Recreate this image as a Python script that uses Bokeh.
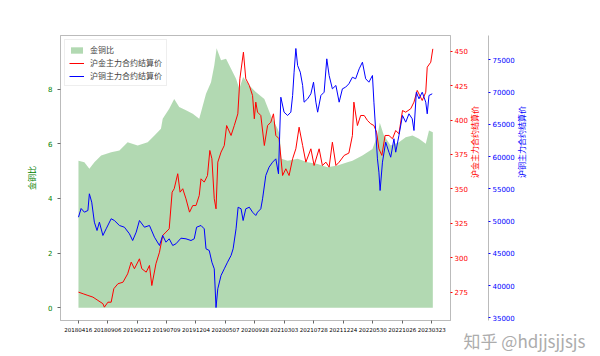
import math
from bokeh.plotting import figure
from bokeh.models import Range1d, LinearAxis, FixedTicker, Legend, LegendItem, Title, ColumnDataSource
from bokeh.embed import file_html
from bokeh.resources import INLINE

# ---------------- data ----------------
tick_idx = [0, 100, 200, 300, 400, 500, 600, 700, 800, 900, 1000, 1100, 1200]
tick_dates = ["20180416", "20180906", "20190212", "20190709", "20191204", "20200507",
              "20200928", "20210303", "20210728", "20211224", "20220530", "20221026", "20230323"]

ratio_idx = [1, 21, 38, 55, 78, 112, 140, 168, 202, 236, 259, 281, 287, 309, 326, 343, 366, 389,
             411, 434, 451, 462, 470, 485, 502, 519, 536, 547, 560, 581, 603, 632, 654, 677, 684,
             690, 711, 745, 779, 813, 846, 880, 914, 931, 965, 999, 1016, 1024, 1038, 1061, 1089,
             1112, 1135, 1157, 1180, 1191, 1204]
ratio_val = [5.38, 5.32, 5.08, 5.32, 5.57, 5.69, 5.75, 6.05, 5.93, 6.05, 6.30, 6.55, 6.91, 7.28,
             7.64, 7.34, 7.22, 7.10, 6.91, 7.83, 8.25, 8.86, 9.49, 9.05, 9.11, 8.74, 8.38, 8.01,
             8.44, 8.13, 7.89, 7.64, 7.03, 6.55, 6.35, 5.45, 5.38, 5.45, 5.32, 5.26, 5.14, 5.20,
             5.32, 5.38, 5.57, 5.81, 6.30, 6.77, 6.30, 5.93, 6.05, 6.24, 6.30, 6.18, 6.00, 6.48, 6.42]

gold_idx = [1, 17, 33, 50, 67, 84, 89, 101, 112, 121, 135, 152, 168, 180, 191, 208, 216, 231, 242,
            250, 264, 276, 287, 298, 309, 319, 326, 338, 346, 355, 366, 378, 389, 400, 411, 417,
            428, 439, 447, 454, 462, 468, 474, 485, 496, 504, 519, 530, 542, 549, 561, 569, 581,
            592, 598, 603, 609, 620, 632, 643, 654, 663, 671, 682, 694, 705, 716, 728, 739, 750,
            762, 773, 790, 801, 818, 829, 841, 852, 863, 875, 886, 903, 919, 931, 936, 948, 959,
            971, 982, 993, 1004, 1013, 1021, 1031, 1042, 1055, 1067, 1078, 1089, 1101, 1112, 1129,
            1140, 1151, 1168, 1180, 1185, 1197, 1204]
gold_val = [275.0, 273.8, 272.6, 271.4, 269.0, 266.6, 264.1, 267.7, 267.7, 277.5, 281.1, 282.2,
            288.3, 296.8, 292.0, 299.2, 292.0, 289.5, 294.4, 279.8, 295.6, 304.0, 316.2, 318.6,
            321.0, 347.6, 350.1, 361.0, 347.6, 350.1, 342.8, 333.1, 337.9, 337.9, 345.2, 357.3,
            354.9, 359.7, 377.9, 371.9, 342.8, 335.5, 369.4, 376.7, 381.5, 396.0, 388.8, 396.0,
            404.5, 430.0, 449.3, 430.0, 425.1, 417.8, 400.9, 413.0, 405.7, 403.3, 381.5, 396.0,
            398.4, 404.5, 388.8, 386.4, 359.7, 364.6, 359.7, 371.9, 379.1, 394.8, 381.5, 369.4,
            379.1, 367.0, 379.1, 367.0, 369.4, 365.8, 383.9, 367.0, 369.4, 374.3, 376.0, 388.8,
            413.0, 396.0, 403.3, 403.3, 399.7, 397.3, 396.0, 391.2, 379.1, 374.3, 388.8, 388.8,
            386.4, 392.4, 390.0, 406.9, 405.7, 408.2, 413.0, 421.5, 414.2, 420.2, 438.4, 442.0, 451.7]

copper_idx = [1, 10, 21, 33, 38, 46, 55, 64, 72, 84, 95, 112, 123, 140, 157, 174, 185, 197, 208,
              225, 242, 259, 276, 287, 298, 309, 321, 332, 349, 366, 383, 394, 402, 417, 428, 434,
              445, 454, 462, 468, 474, 485, 496, 507, 519, 526, 536, 543, 553, 560, 569, 581, 592,
              603, 609, 620, 626, 637, 648, 660, 671, 680, 688, 699, 711, 722, 728, 733, 739, 745,
              754, 762, 767, 779, 790, 799, 807, 813, 824, 835, 844, 852, 863, 875, 886, 897, 908,
              919, 931, 942, 954, 965, 976, 987, 999, 1004, 1016, 1021, 1025, 1033, 1044, 1055,
              1061, 1072, 1078, 1089, 1101, 1112, 1123, 1134, 1140, 1148, 1157, 1168, 1180, 1185,
              1191, 1202]
copper_val = [50600, 51950, 51380, 51640, 54230, 52930, 49830, 48540, 49830, 47770, 48800, 50360,
              50090, 49320, 49050, 48030, 46990, 48280, 50090, 49050, 49320, 47500, 46220, 47770,
              46730, 47250, 46220, 46480, 47350, 47250, 46990, 47250, 49050, 49320, 48800, 45700,
              45440, 43630, 42600, 36600, 39500, 41570, 42600, 43630, 44670, 45700, 48800, 52150,
              51900, 50090, 51900, 52150, 51380, 50870, 51380, 51900, 53450, 57070, 58350, 59130,
              59650, 57330, 69200, 66880, 66370, 66880, 69470, 73080, 76750, 74120, 73080, 71020,
              68430, 68950, 69730, 71530, 68430, 66880, 69470, 69980, 75150, 72570, 70500, 71020,
              68430, 70500, 70760, 71280, 72300, 72060, 73600, 74630, 72060, 71530, 72570, 68430,
              59650, 57580, 54740, 59130, 62230, 60680, 59900, 62760, 60680, 63270, 66370, 65330,
              66630, 65860, 64040, 69980, 68950, 69980, 68430, 66630, 69470, 69730]

ratio_ticks = [0, 2, 4, 6, 8]
gold_ticks = [275, 300, 325, 350, 375, 400, 425, 450]
copper_ticks = [35000, 40000, 45000, 50000, 55000, 60000, 65000, 70000, 75000]

CJK = "Noto Sans CJK SC"
NUM = "DejaVu Sans"

# ---------------- figure ----------------
p = figure(width=600, height=356, output_backend="svg", toolbar_location=None,
           x_range=Range1d(-60, 1264), y_range=Range1d(-0.47, 9.96),
           min_border_left=60, min_border_right=150, min_border_top=35, min_border_bottom=36)
p.extra_y_ranges = {"gold": Range1d(254.4, 461.4), "copper": Range1d(34590, 78767)}
p.xgrid.visible = False
p.ygrid.visible = False
p.outline_line_color = "#bbbbbb"
p.background_fill_color = "white"
p.border_fill_color = "white"

src_r = ColumnDataSource(dict(x=ratio_idx, y=ratio_val, z=[0] * len(ratio_idx)))
src_g = ColumnDataSource(dict(x=gold_idx, y=gold_val))
src_c = ColumnDataSource(dict(x=copper_idx, y=copper_val))

r_area = p.varea(x="x", y1="z", y2="y", source=src_r, fill_color="green", fill_alpha=0.3)
r_gold = p.line(x="x", y="y", source=src_g, line_color="red", line_width=1, y_range_name="gold")
r_cop = p.line(x="x", y="y", source=src_c, line_color="blue", line_width=1, y_range_name="copper")

# x axis
xa = p.xaxis[0]
xa.ticker = FixedTicker(ticks=tick_idx)
xa.major_label_overrides = {t: d for t, d in zip(tick_idx, tick_dates)}
xa.major_label_text_font = NUM
xa.major_label_text_font_size = "5.5px"
xa.major_label_text_color = "black"
xa.axis_line_color = "#bbbbbb"
xa.major_tick_line_color = "#666666"
xa.major_tick_out = 3
xa.major_tick_in = 0
xa.minor_tick_line_color = None
xa.major_label_standoff = 3

# left axis
ya = p.yaxis[0]
ya.ticker = FixedTicker(ticks=ratio_ticks)
ya.axis_label = "金铜比"
ya.axis_label_text_font = CJK
ya.axis_label_text_font_style = "normal"
ya.axis_label_text_font_size = "8px"
ya.axis_label_text_color = "green"
ya.axis_label_standoff = 8
ya.major_label_text_font = NUM
ya.major_label_text_font_size = "7px"
ya.major_label_text_color = "green"
ya.axis_line_color = "#bbbbbb"
ya.major_tick_line_color = "#666666"
ya.major_tick_out = 3
ya.major_tick_in = 0
ya.minor_tick_line_color = None

def right_axis(name, ticks, label, color):
    ax = LinearAxis(y_range_name=name, ticker=FixedTicker(ticks=ticks), axis_label=label)
    ax.axis_label_text_font = CJK
    ax.axis_label_text_font_style = "normal"
    ax.axis_label_text_font_size = "8px"
    ax.axis_label_text_color = color
    ax.axis_label_standoff = 4
    ax.axis_label_orientation = math.pi / 2
    ax.major_label_text_font = NUM
    ax.major_label_text_font_size = "7px"
    ax.major_label_text_color = color
    ax.axis_line_color = "#bbbbbb"
    ax.major_tick_line_color = color
    ax.major_tick_out = 2
    ax.major_tick_in = 0
    ax.minor_tick_line_color = None
    ax.major_label_standoff = 2
    return ax

p.add_layout(right_axis("gold", gold_ticks, "沪金主力合约结算价", "red"), "right")
p.add_layout(right_axis("copper", copper_ticks, "沪铜主力合约结算价", "blue"), "right")

legend = Legend(items=[LegendItem(label="金铜比", renderers=[r_area]),
                       LegendItem(label="沪金主力合约结算价", renderers=[r_gold]),
                       LegendItem(label="沪铜主力合约结算价", renderers=[r_cop])],
                location="top_left")
legend.label_text_font = CJK
legend.label_text_font_size = "8px"
legend.label_height = 10
legend.glyph_height = 8
legend.glyph_width = 15
legend.label_standoff = 6
legend.spacing = 2
legend.padding = 4
legend.margin = 4
legend.border_line_color = "#dddddd"
legend.background_fill_alpha = 0.8
p.add_layout(legend)

# watermark placed as a title below the x axis, pushed to the right
wm = Title(text="知乎 @hdjjsjjsjs", align="right", offset=-135, standoff=-17,
           text_font=CJK, text_font_size="17px", text_font_style="normal", text_color="#acacac")
p.add_layout(wm, "below")

open("out.html", "w").write(file_html(p, INLINE))
